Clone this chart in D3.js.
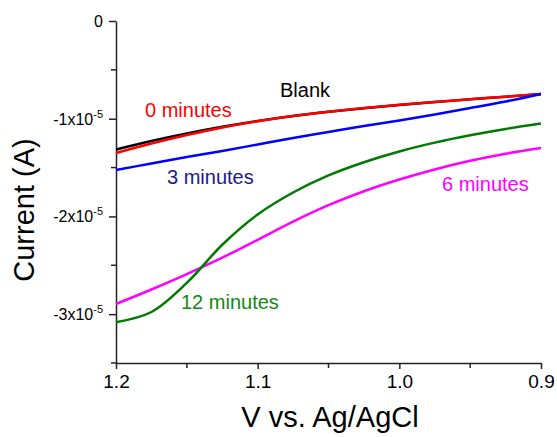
<!DOCTYPE html>
<html>
<head>
<meta charset="utf-8">
<script src="https://cdn.jsdelivr.net/npm/d3@7"></script>
<style>
  body { margin: 0; background: #fff; }
  svg { display: block; font-family: "Liberation Sans", Arial, sans-serif; }
</style>
</head>
<body>
<script>
// potential (V vs. Ag/AgCl), current in units of 1e-5 A
var volts = [1.20, 1.175, 1.15, 1.125, 1.10, 1.075, 1.05, 1.025, 1.00, 0.975, 0.95, 0.925, 0.90];
var blank = [-1.315, -1.228, -1.151, -1.083, -1.023, -0.972, -0.929, -0.892, -0.860, -0.830, -0.802, -0.775, -0.747];
var min0  = [-1.351, -1.254, -1.167, -1.090, -1.025, -0.972, -0.928, -0.890, -0.858, -0.828, -0.800, -0.774, -0.747];
var min3  = [-1.525, -1.458, -1.392, -1.330, -1.264, -1.197, -1.136, -1.075, -1.018, -0.957, -0.890, -0.824, -0.747];
var min6  = [-2.896, -2.748, -2.590, -2.422, -2.239, -2.053, -1.885, -1.742, -1.622, -1.519, -1.431, -1.358, -1.300];
var min12 = [-3.082, -2.978, -2.680, -2.290, -1.980, -1.755, -1.580, -1.445, -1.335, -1.245, -1.170, -1.105, -1.050];

var xTicks = [1.2, 1.1, 1.0, 0.9];
var xMinor = [1.15, 1.05, 0.95];
var yTicks = [0, -1, -2, -3];
var yMinor = [-0.5, -1.5, -2.5, -3.5];

var series = [
    {name: "Blank",      values: blank, color: "#000000", label: "#000000", lx: 280, ly: 97},
    {name: "0 minutes",  values: min0,  color: "#ff0000", label: "#ff0000", lx: 145, ly: 117},
    {name: "3 minutes",  values: min3,  color: "#0000ff", label: "#1a1a8c", lx: 167, ly: 184},
    {name: "6 minutes",  values: min6,  color: "#ff00ff", label: "#ff00ff", lx: 442, ly: 191},
    {name: "12 minutes", values: min12, color: "#007a00", label: "#128a12", lx: 181, ly: 309}
];

var width = 557, height = 437;

var x = d3.scaleLinear().domain([1.2, 0.9]).range([116, 541]);
var y = d3.scaleLinear().domain([-3.5, 0]).range([363, 21]);

var svg = d3.select("body").append("svg")
    .attr("width", width)
    .attr("height", height);

// axes
var xAxis = svg.append("g")
    .attr("transform", "translate(0," + y(-3.5) + ")")
    .call(d3.axisBottom(x).tickValues(xTicks).tickSize(6).tickSizeOuter(0)
        .tickFormat(d3.format(".1f")));
xAxis.selectAll(".minor").data(xMinor).enter()
    .append("line")
    .attr("class", "minor")
    .attr("x1", function(d) { return x(d); })
    .attr("x2", function(d) { return x(d); })
    .attr("y1", 0).attr("y2", 5)
    .attr("stroke", "#222").attr("stroke-width", 1.5);
xAxis.select(".domain").attr("stroke", "#222").attr("stroke-width", 1.5);
xAxis.selectAll(".tick line").attr("stroke", "#222").attr("stroke-width", 1.5);
xAxis.selectAll(".tick text")
    .attr("y", 12)
    .style("font-size", "19px")
    .style("font-family", "Liberation Sans, Arial, sans-serif")
    .attr("fill", "#000");

var yAxis = svg.append("g")
    .attr("transform", "translate(" + x(1.2) + ",0)")
    .call(d3.axisLeft(y).tickValues(yTicks).tickSize(7).tickSizeOuter(0).tickFormat(""));
yAxis.selectAll(".minor").data(yMinor).enter()
    .append("line")
    .attr("class", "minor")
    .attr("x1", -5).attr("x2", 0)
    .attr("y1", function(d) { return y(d); })
    .attr("y2", function(d) { return y(d); })
    .attr("stroke", "#222").attr("stroke-width", 1.5);
yAxis.select(".domain").attr("stroke", "#222").attr("stroke-width", 1.5);
yAxis.selectAll(".tick line").attr("stroke", "#222").attr("stroke-width", 1.5);

// y tick labels with superscript exponent
var ylab = svg.append("g");
yTicks.forEach(function(d) {
    var t = ylab.append("text")
        .attr("x", x(1.2) - 13)
        .attr("y", y(d) + 6)
        .attr("text-anchor", "end")
        .style("font-size", "16px")
        .attr("fill", "#000");
    if (d === 0) {
        t.text("0");
    } else {
        t.append("tspan").text(d + "x10");
        t.append("tspan").attr("dy", -7).style("font-size", "11px").text("-5");
    }
});

// axis titles
svg.append("text")
    .attr("x", 330)
    .attr("y", 427)
    .attr("text-anchor", "middle")
    .style("font-size", "29px")
    .text("V vs. Ag/AgCl");

svg.append("text")
    .attr("transform", "translate(34,210) rotate(-90)")
    .attr("text-anchor", "middle")
    .style("font-size", "29px")
    .text("Current (A)");

// curves
var line = d3.line()
    .x(function(d) { return x(d[0]); })
    .y(function(d) { return y(d[1]); })
    .curve(d3.curveCatmullRom);

svg.append("g")
    .selectAll("path")
    .data(series)
    .enter()
    .append("path")
        .attr("d", function(s) { return line(volts.map(function(v, i) { return [v, s.values[i]]; })); })
        .attr("fill", "none")
        .attr("stroke", function(s) { return s.color; })
        .attr("stroke-width", 2.5);

// series labels
svg.append("g")
    .selectAll("text")
    .data(series)
    .enter()
    .append("text")
        .attr("x", function(s) { return s.lx; })
        .attr("y", function(s) { return s.ly; })
        .style("font-size", "20px")
        .attr("fill", function(s) { return s.label; })
        .text(function(s) { return s.name; });
</script>
</body>
</html>
